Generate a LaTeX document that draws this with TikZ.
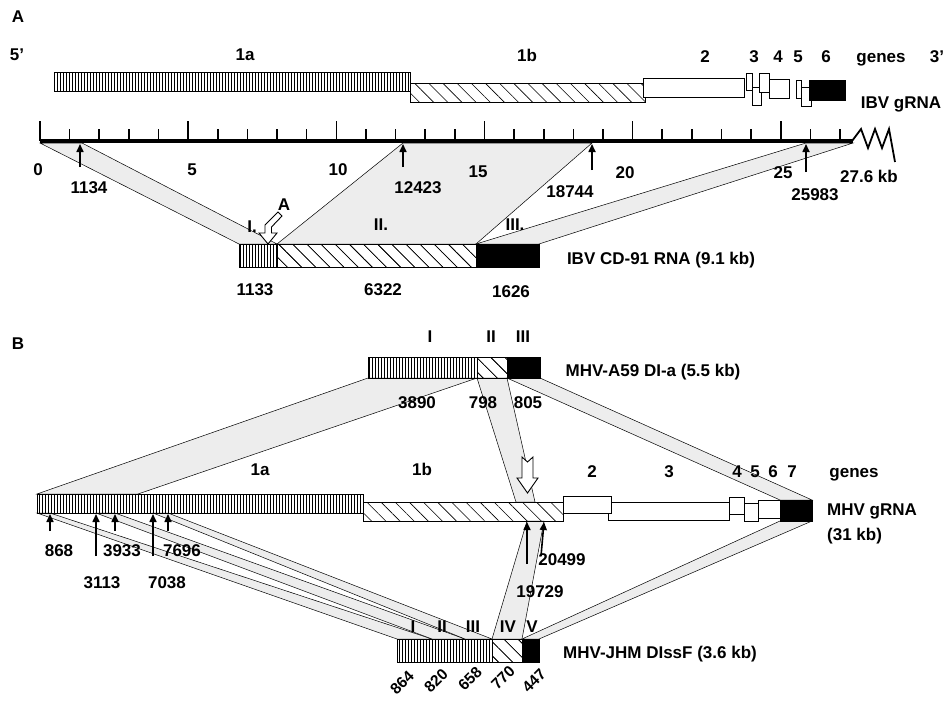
\documentclass[tikz,border=0pt]{standalone}
\usepackage{fontspec}
\setmainfont{Liberation Sans}
\usetikzlibrary{patterns.meta,arrows.meta}
\begin{document}
\begin{tikzpicture}[x=1pt,y=-1pt,
  lbl/.style={font=\bfseries\fontsize{17}{19}\selectfont, inner sep=0pt, anchor=base},
  rlbl/.style={font=\bfseries\fontsize{15.5}{17}\selectfont, inner sep=0pt, anchor=center, rotate=45},
  vh/.style={draw, line width=0.6pt, pattern={Lines[angle=90,distance=3pt,line width=0.7pt]}, inner sep=0pt, outer sep=0pt},
  dh/.style={draw, line width=0.6pt, pattern={Lines[angle=-45,distance=10pt,line width=0.6pt]}, inner sep=0pt, outer sep=0pt},
  wb/.style={draw, line width=0.7pt, fill=white, inner sep=0pt, outer sep=0pt},
  bb/.style={draw, line width=0.7pt, fill=black, inner sep=0pt, outer sep=0pt},
  band/.style={draw, line width=0.5pt, fill=black!7},
  uarr/.style={-{Triangle[length=8pt,width=7pt]}, line width=1.6pt},
  harr/.style={draw, line width=0.9pt, fill=white, line join=miter}
]
\useasboundingbox (0,0) rectangle (944,701);
\fill[white] (0,0) rectangle (944,701);

% ================= PART A =================
% ruler points
\coordinate (r0) at (40,143);
\coordinate (r1134) at (82,143);
\coordinate (r12423) at (403,143);
\coordinate (r18744) at (592,143);
\coordinate (r25983) at (806,143);
\coordinate (rend) at (853,143);

% DI RNA boxes (A)
\node[vh, minimum width=38pt, minimum height=23pt] (ad1) at (258,255.5) {};
\node[dh, minimum width=199pt, minimum height=23pt] (ad2) at (376.5,255.5) {};
\node[bb, minimum width=63pt, minimum height=23pt] (ad3) at (507.5,255.5) {};

% bands (A)
\draw[band] (r0) -- (r1134) -- (ad1.north east) -- (ad1.north west) -- cycle;
\draw[band] (r12423) -- (r18744) -- (ad3.north west) -- (ad2.north west) -- cycle;
\draw[band] (r25983) -- (rend) -- (ad3.north east) -- (ad3.north west) -- cycle;
% redraw boxes on top
\node[vh, minimum width=38pt, minimum height=23pt] at (258,255.5) {};
\node[dh, minimum width=199pt, minimum height=23pt] at (376.5,255.5) {};
\node[bb, minimum width=63pt, minimum height=23pt] at (507.5,255.5) {};

% IBV gRNA genes
\node[vh, minimum width=356pt, minimum height=19pt] (g1a) at (232,81.5) {};
\node[dh, minimum width=235pt, minimum height=19pt] (g1b) at (527.5,92.5) {};
\node[wb, minimum width=101pt, minimum height=19pt] (g2) at (693.5,87.5) {};
\node[wb, minimum width=20pt, minimum height=19pt] (g4) at (779,88.5) {};
\node[wb, minimum width=6pt, minimum height=17pt] (g3a) at (749,81.5) {};
\node[wb, minimum width=9pt, minimum height=18pt] (g3b) at (756.5,96) {};
\node[wb, minimum width=10pt, minimum height=19pt] (g3c) at (764,82.5) {};
\node[wb, minimum width=5pt, minimum height=18pt] (g5a) at (798.5,89) {};
\node[wb, minimum width=10pt, minimum height=19pt] (g5b) at (806,96.5) {};
\node[bb, minimum width=36pt, minimum height=20pt] (g6) at (827,90) {};

% ruler
\draw[line width=3.5pt] (40,141) -- (853,141);
\foreach \k in {1,2,3,4,6,7,8,9,11,12,13,14,16,17,18,19,21,22,23,24,26,27}
  \draw[line width=1.6pt] ({40+\k*29.63},141) -- ({40+\k*29.63},129);
\foreach \k in {0,5,10,15,20,25}
  \draw[line width=1.6pt] ({40+\k*29.63},141) -- ({40+\k*29.63},121);
\draw[line width=1.8pt, line join=miter] (852,141) -- (861,129) -- (868,148) -- (875,129) -- (882,148) -- (889,129) -- (895,162);

% arrows A
\coordinate (aa1) at (80,167); \coordinate (ab1) at (80,144);
\coordinate (aa2) at (403,167); \coordinate (ab2) at (403,144);
\coordinate (aa3) at (592,170); \coordinate (ab3) at (592,144);
\coordinate (aa4) at (806,172); \coordinate (ab4) at (806,144);
\draw[uarr] (aa1) -- (ab1);
\draw[uarr] (aa2) -- (ab2);
\draw[uarr] (aa3) -- (ab3);
\draw[uarr] (aa4) -- (ab4);

% hollow arrow A
\draw[harr] (268,244) -- (277,233) -- (271.5,233) -- (271.5,227) -- (282,216) -- (278,212) -- (265,225) -- (265,233) -- (259,233) -- cycle;

% labels A
\node[lbl] (tA) at (18,23) {A};
\node[lbl] (t5p) at (17,60) {5’};
\node[lbl] (ta1a) at (245,60) {1a};
\node[lbl] (ta1b) at (527,62) {1b};
\node[lbl] (ta2) at (705,63) {2};
\node[lbl] (ta3) at (754,63) {3};
\node[lbl] (ta4) at (778,63) {4};
\node[lbl] (ta5) at (798,63) {5};
\node[lbl] (ta6) at (826,63) {6};
\node[lbl] (tagenes) at (881,63) {genes};
\node[lbl] (t3p) at (937,63) {3’};
\node[lbl] (tibv) at (901,108) {IBV gRNA};
\node[lbl] (k0) at (38,175) {0};
\node[lbl] (k5) at (192,175) {5};
\node[lbl] (k10) at (338,175) {10};
\node[lbl] (k15) at (478,177) {15};
\node[lbl] (k20) at (625,178) {20};
\node[lbl] (k25) at (783,178) {25};
\node[lbl] (k276) at (869,182) {27.6 kb};
\node[lbl] (p1134) at (89,193) {1134};
\node[lbl] (p12423) at (418,193) {12423};
\node[lbl] (p18744) at (570,197) {18744};
\node[lbl] (p25983) at (815,200) {25983};
\node[lbl] (tarrA) at (284,210) {A};
\node[lbl] (tI) at (252,232) {I.};
\node[lbl] (tII) at (381,230) {II.};
\node[lbl] (tIII) at (515,230) {III.};
\node[lbl] (n1133) at (255,295) {1133};
\node[lbl] (n6322) at (383,295) {6322};
\node[lbl] (n1626) at (511,297) {1626};
\node[lbl] (tcd) at (661,264) {IBV CD-91 RNA (9.1 kb)};

% ================= PART B =================
% A59 DI-a boxes
\node[vh, minimum width=109pt, minimum height=21pt] (b1) at (422.5,367.5) {};
\node[dh, minimum width=30pt, minimum height=21pt] (b2) at (492,367.5) {};
\node[bb, minimum width=33pt, minimum height=21pt] (b3) at (523.5,367.5) {};

% DIssF boxes
\node[vh, minimum width=95pt, minimum height=23pt] (s1) at (444.5,650.5) {};
\node[dh, minimum width=30pt, minimum height=23pt] (s2) at (507,650.5) {};
\node[bb, minimum width=17pt, minimum height=23pt] (s3) at (530.5,650.5) {};

% band endpoints on the gRNA
\coordinate (m0) at (37,494); \coordinate (m3890) at (138,494);
\coordinate (m2t) at (516,502); \coordinate (m2u) at (535,502);
\coordinate (m7a) at (780,500); \coordinate (m7b) at (812,500);
\coordinate (q0) at (37,513); \coordinate (q868) at (50,513);
\coordinate (q3113) at (96,513); \coordinate (q3933) at (115,513);
\coordinate (q7038) at (153,513); \coordinate (q7696) at (168,513);
\coordinate (q19729) at (527,521); \coordinate (q20499) at (544,521);
\coordinate (q7c) at (780,521); \coordinate (q7d) at (812,521);
\coordinate (s12) at (432,639); \coordinate (s23) at (465,639);

% bands B (upper)
\draw[band] (b1.south west) -- (b1.south east) -- (m3890) -- (m0) -- cycle;
\draw[band] (b2.south west) -- (b2.south east) -- (m2u) -- (m2t) -- cycle;
\draw[band] (b3.south west) -- (b3.south east) -- (m7b) -- (m7a) -- cycle;
% bands B (lower)
\draw[band] (q0) -- (q868) -- (s12) -- (s1.north west) -- cycle;
\draw[band] (q3113) -- (q3933) -- (s23) -- (s12) -- cycle;
\draw[band] (q7038) -- (q7696) -- (s1.north east) -- (s23) -- cycle;
\draw[band] (q19729) -- (q20499) -- (s2.north east) -- (s2.north west) -- cycle;
\draw[band] (q7c) -- (q7d) -- (s3.north east) -- (s3.north west) -- cycle;

% redraw DI boxes
\node[vh, minimum width=109pt, minimum height=21pt] at (422.5,367.5) {};
\node[dh, minimum width=30pt, minimum height=21pt] at (492,367.5) {};
\node[bb, minimum width=33pt, minimum height=21pt] at (523.5,367.5) {};
\node[vh, minimum width=95pt, minimum height=23pt] at (444.5,650.5) {};
\node[dh, minimum width=30pt, minimum height=23pt] at (507,650.5) {};
\node[bb, minimum width=17pt, minimum height=23pt] at (530.5,650.5) {};

% MHV gRNA genes
\node[vh, minimum width=326pt, minimum height=19pt] (h1a) at (200,503.5) {};
\node[dh, minimum width=200pt, minimum height=19pt] (h1b) at (463,511.5) {};
\node[wb, minimum width=121pt, minimum height=18pt] (h3) at (668.5,511) {};
\node[wb, minimum width=48pt, minimum height=17pt] (h2) at (587,504.5) {};
\node[wb, minimum width=15pt, minimum height=17pt] (h4) at (736.5,505.5) {};
\node[wb, minimum width=14pt, minimum height=18pt] (h5) at (751,512) {};
\node[wb, minimum width=22pt, minimum height=18pt] (h6) at (769,509) {};
\node[bb, minimum width=32pt, minimum height=21pt] (h7) at (796,510.5) {};

% hollow arrow B
\draw[harr] (527.5,493) -- (538,478) -- (533,478) -- (533,457) -- (527.5,462) -- (522,457) -- (522,478) -- (517,478) -- cycle;

% arrows B
\coordinate (c1) at (50,531); \coordinate (d1) at (50,514);
\coordinate (c2) at (96,556); \coordinate (d2) at (96,514);
\coordinate (c3) at (115,531); \coordinate (d3) at (115,514);
\coordinate (c4) at (153,556); \coordinate (d4) at (153,514);
\coordinate (c5) at (168,531); \coordinate (d5) at (168,514);
\coordinate (c6) at (527,564); \coordinate (d6) at (527,522);
\coordinate (c7) at (541,556); \coordinate (d7) at (544,522);
\draw[uarr] (c1) -- (d1);
\draw[uarr] (c2) -- (d2);
\draw[uarr] (c3) -- (d3);
\draw[uarr] (c4) -- (d4);
\draw[uarr] (c5) -- (d5);
\draw[uarr] (c6) -- (d6);
\draw[uarr] (c7) -- (d7);

% labels B
\node[lbl] (tB) at (18,349) {B};
\node[lbl] (bI) at (430,342) {I};
\node[lbl] (bII) at (491,342) {II};
\node[lbl] (bIII) at (523,342) {III};
\node[lbl] (ta59) at (653,376) {MHV-A59 DI-a (5.5 kb)};
\node[lbl] (n3890) at (417,408) {3890};
\node[lbl] (n798) at (483,408) {798};
\node[lbl] (n805) at (528,408) {805};
\node[lbl] (tb1a) at (260,475) {1a};
\node[lbl] (tb1b) at (422,475) {1b};
\node[lbl] (tb2) at (592,477) {2};
\node[lbl] (tb3) at (669,477) {3};
\node[lbl] (tb4) at (737,477) {4};
\node[lbl] (tb5) at (755,477) {5};
\node[lbl] (tb6) at (773,477) {6};
\node[lbl] (tb7) at (792,477) {7};
\node[lbl] (tbgenes) at (854,477) {genes};
\node[lbl, anchor=base west] (tmhv) at (827,515) {MHV gRNA};
\node[lbl, anchor=base west] (t31) at (827,540) {(31 kb)};
\node[lbl] (n868) at (59,556) {868};
\node[lbl] (n3933) at (122,556) {3933};
\node[lbl] (n7696) at (182,556) {7696};
\node[lbl] (n3113) at (102,588) {3113};
\node[lbl] (n7038) at (167,588) {7038};
\node[lbl] (n20499) at (562,565) {20499};
\node[lbl] (n19729) at (540,597) {19729};
\node[lbl] (sI) at (413,632) {I};
\node[lbl] (sII) at (442,632) {II};
\node[lbl] (sIII) at (473,632) {III};
\node[lbl] (sIV) at (508,632) {IV};
\node[lbl] (sV) at (532,632) {V};
\node[lbl] (tjhm) at (660,658) {MHV-JHM DIssF (3.6 kb)};
\node[rlbl] (n864) at (402,683) {864};
\node[rlbl] (n820) at (436,681) {820};
\node[rlbl] (n658) at (470,679) {658};
\node[rlbl] (n770) at (503,678) {770};
\node[rlbl] (n447) at (534,681) {447};
\end{tikzpicture}
\end{document}
